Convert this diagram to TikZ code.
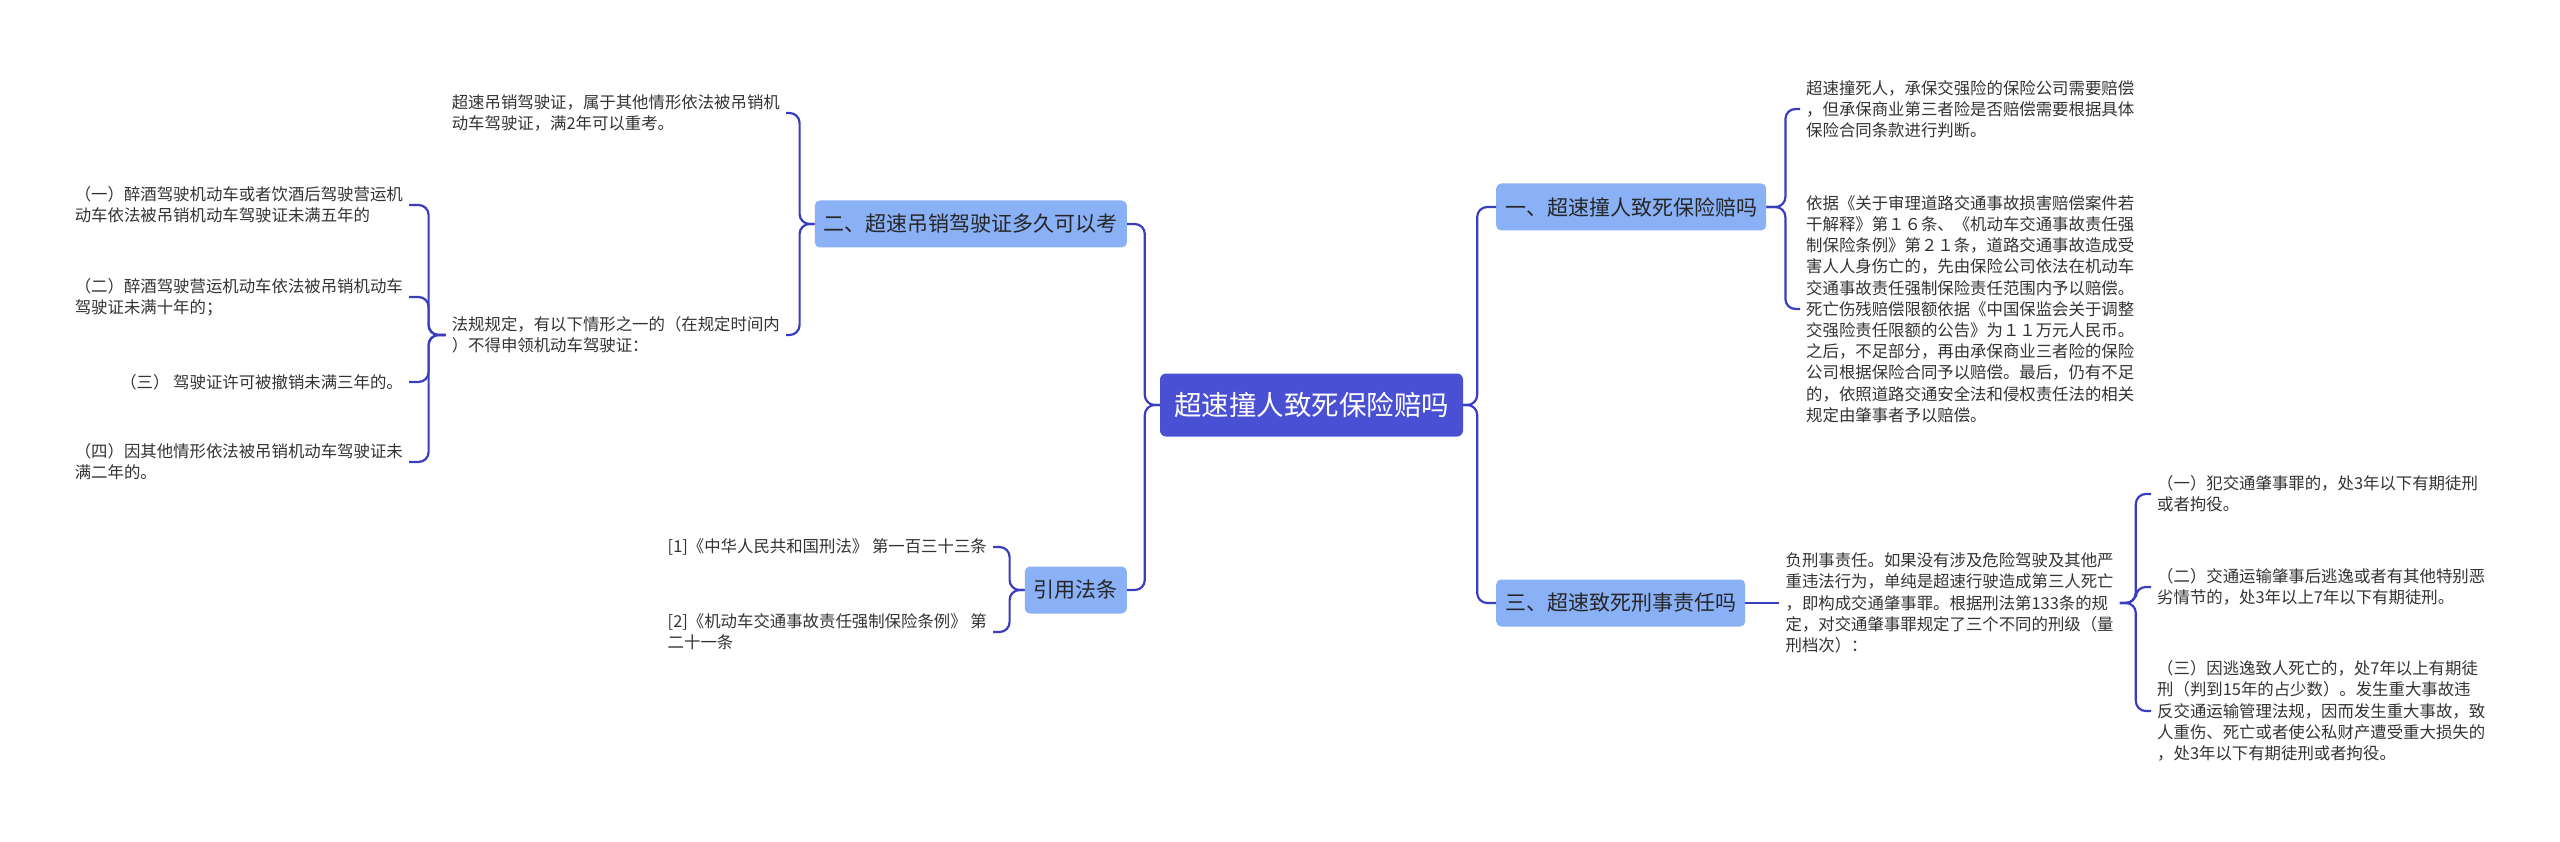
\documentclass[tikz,border=0pt]{standalone}
\usepackage{fontspec}
\setmainfont{Noto Sans CJK SC}
\usepackage{tikz}
\usetikzlibrary{positioning, calc}
\definecolor{rootblue}{RGB}{74, 80, 212}
\definecolor{branchblue}{RGB}{138, 176, 245}
\definecolor{linkblue}{RGB}{58, 62, 190}
\definecolor{leafgray}{RGB}{51, 51, 51}

\begin{document}
\begin{tikzpicture}[x=1pt, y=-1pt,
    root/.style={rectangle, fill=rootblue, text=white, rounded corners=6pt,
      inner xsep=14pt, minimum height=63pt, font=\fontsize{27.5}{30}\selectfont},
    branch/.style={rectangle, fill=branchblue, text=black!85, rounded corners=5pt,
      inner xsep=9pt, minimum height=47pt, font=\fontsize{21}{24}\selectfont},
    leaf/.style={text=leafgray, align=left, inner xsep=6pt, inner ysep=0pt,
      font=\fontsize{16.4}{21.2}\selectfont},
    link/.style={draw=linkblue, line width=2.2pt, rounded corners=10pt}
  ]
    \useasboundingbox[fill=white] (0,0) rectangle (2560,842);

    \node[root] (root) at (1311.5,405) {超速撞人致死保险赔吗};

    \node[branch, anchor=west] (ins) at (1496,207) {一、超速撞人致死保险赔吗};
    \node[branch, anchor=west] (crim) at (1496,603) {三、超速致死刑事责任吗};
    \node[branch, anchor=east] (lic) at (1127,224) {二、超速吊销驾驶证多久可以考};
    \node[branch, anchor=east] (law) at (1127,590) {引用法条};

    \node[leaf, anchor=west] (ins1) at (1800,109) {超速撞死人，承保交强险的保险公司需要赔偿\\，但承保商业第三者险是否赔偿需要根据具体\\保险合同条款进行判断。};
    \node[leaf, anchor=west] (ins2) at (1800,309) {依据《关于审理道路交通事故损害赔偿案件若\\干解释》第１６条、《机动车交通事故责任强\\制保险条例》第２１条，道路交通事故造成受\\害人人身伤亡的，先由保险公司依法在机动车\\交通事故责任强制保险责任范围内予以赔偿。\\死亡伤残赔偿限额依据《中国保监会关于调整\\交强险责任限额的公告》为１１万元人民币。\\之后，不足部分，再由承保商业三者险的保险\\公司根据保险合同予以赔偿。最后，仍有不足\\的，依照道路交通安全法和侵权责任法的相关\\规定由肇事者予以赔偿。};

    \node[leaf, right=34pt of crim] (resp) {负刑事责任。如果没有涉及危险驾驶及其他严\\重违法行为，单纯是超速行驶造成第三人死亡\\，即构成交通肇事罪。根据刑法第133条的规\\定，对交通肇事罪规定了三个不同的刑级（量\\刑档次）：};
    \node[leaf, anchor=west] (lvl1) at (2151,494) {（一）犯交通肇事罪的，处3年以下有期徒刑\\或者拘役。};
    \node[leaf, anchor=west] (lvl2) at (2151,587) {（二）交通运输肇事后逃逸或者有其他特别恶\\劣情节的，处3年以上7年以下有期徒刑。};
    \node[leaf, anchor=west] (lvl3) at (2151,711) {（三）因逃逸致人死亡的，处7年以上有期徒\\刑（判到15年的占少数）。发生重大事故违\\反交通运输管理法规，因而发生重大事故，致\\人重伤、死亡或者使公私财产遭受重大损失的\\，处3年以下有期徒刑或者拘役。};

    \node[leaf, anchor=east] (lic1) at (786,113) {超速吊销驾驶证，属于其他情形依法被吊销机\\动车驾驶证，满2年可以重考。};
    \node[leaf, anchor=east] (lic2) at (786,335) {法规规定，有以下情形之一的（在规定时间内\\）不得申领机动车驾驶证：};
    \node[leaf, anchor=east] (case1) at (409,205) {（一）醉酒驾驶机动车或者饮酒后驾驶营运机\\动车依法被吊销机动车驾驶证未满五年的};
    \node[leaf, anchor=east] (case2) at (409,297) {（二）醉酒驾驶营运机动车依法被吊销机动车\\驾驶证未满十年的；};
    \node[leaf, anchor=east] (case3) at (409,382) {（三） 驾驶证许可被撤销未满三年的。};
    \node[leaf, anchor=east] (case4) at (409,462) {（四）因其他情形依法被吊销机动车驾驶证未\\满二年的。};

    \node[leaf, anchor=east] (ref1) at (993,547) {[1]《中华人民共和国刑法》 第一百三十三条};
    \node[leaf, anchor=east] (ref2) at (993,632) {[2]《机动车交通事故责任强制保险条例》 第\\二十一条};

    \draw[link] (root.east) -- ++(14,0) |- (ins.west);
    \draw[link] (root.east) -- ++(14,0) |- (crim.west);
    \draw[link] (root.west) -- ++(-15,0) |- (lic.east);
    \draw[link] (root.west) -- ++(-15,0) |- (law.east);

    \draw[link] (ins.east) -- ++(19,0) |- (ins1.west);
    \draw[link] (ins.east) -- ++(19,0) |- (ins2.west);
    \draw[link] (crim.east) -- (resp.west);
    \draw[link] (resp.east) -- ++(16,0) |- (lvl1.west);
    \draw[link] (resp.east) -- ++(16,0) |- (lvl2.west);
    \draw[link] (resp.east) -- ++(16,0) |- (lvl3.west);

    \draw[link] (lic.west) -- ++(-15,0) |- (lic1.east);
    \draw[link] (lic.west) -- ++(-15,0) |- (lic2.east);
    \draw[link] (lic2.west) -- ++(-17,0) |- (case1.east);
    \draw[link] (lic2.west) -- ++(-17,0) |- (case2.east);
    \draw[link] (lic2.west) -- ++(-17,0) |- (case3.east);
    \draw[link] (lic2.west) -- ++(-17,0) |- (case4.east);

    \draw[link] (law.west) -- ++(-15,0) |- (ref1.east);
    \draw[link] (law.west) -- ++(-15,0) |- (ref2.east);
  \end{tikzpicture}
\end{document}
